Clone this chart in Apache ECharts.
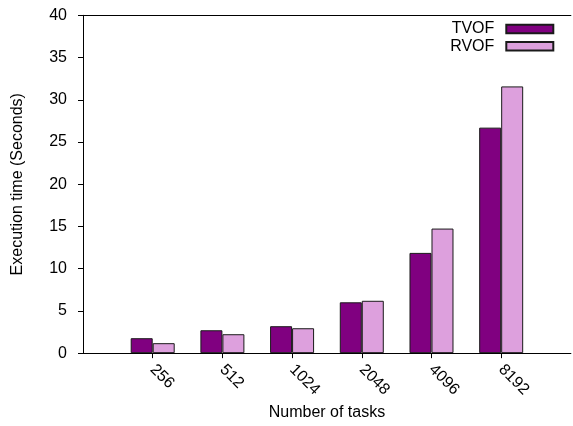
<!DOCTYPE html>
<html>
<head>
<meta charset="utf-8">
<script src="https://cdn.jsdelivr.net/npm/echarts@6/dist/echarts.min.js"></script>
<style>
  html, body { margin: 0; padding: 0; background: #fff; }
  #chart { width: 573px; height: 426px; }
</style>
</head>
<body>
<div id="chart"></div>
<script>
// Task counts on the x axis
var categories = ['256', '512', '1024', '2048', '4096', '8192'];
// Execution time in seconds
var tvof = [1.77, 2.71, 3.19, 6.02, 11.87, 26.7];
var rvof = [1.18, 2.24, 2.95, 6.2, 14.75, 31.58];
// Value axis ticks
var yMin = 0, yMax = 40, yStep = 5;

// One empty slot either side of the groups keeps them off the frame
var axisCats = [''].concat(categories, ['']);
function padded(arr) { return [null].concat(arr, [null]); }

var FONT = 'Liberation Sans, Arial, sans-serif';
var chart = echarts.init(document.getElementById('chart'), null, { renderer: 'canvas' });

chart.setOption({
  animation: false,
  backgroundColor: '#ffffff',
  textStyle: { fontFamily: FONT },
  grid: { left: 83, top: 15.3, width: 491.4, height: 339 },
  legend: {
    orient: 'vertical',
    right: 18.7,
    top: 21,
    padding: 0,
    itemGap: 1.2,
    align: 'right',
    itemWidth: 47,
    itemHeight: 8.5,
    icon: 'rect',
    textStyle: { fontFamily: FONT, fontSize: 16, color: '#000', padding: [0, 7, 0, 0], lineHeight: 16 },
    data: ['TVOF', 'RVOF']
  },
  xAxis: [{
    type: 'category',
    data: axisCats,
    boundaryGap: false,
    name: 'Number of tasks',
    nameLocation: 'middle',
    nameGap: 50,
    nameTextStyle: { fontFamily: FONT, fontSize: 16, color: '#000' },
    axisLine: { lineStyle: { color: '#000', width: 1 } },
    axisTick: {
      show: true, inside: false, length: 5,
      interval: function (idx, val) { return val !== ''; },
      lineStyle: { color: '#000' }
    },
    axisLabel: {
      interval: 0, rotate: -45, margin: 14,
      fontFamily: FONT, fontSize: 16, color: '#000'
    },
    splitLine: { show: false }
  }, {
    type: 'category',
    position: 'top',
    data: axisCats,
    boundaryGap: false,
    axisLine: { lineStyle: { color: '#000', width: 1 } },
    axisTick: { show: false },
    axisLabel: { show: false },
    splitLine: { show: false }
  }],
  yAxis: {
    type: 'value',
    min: yMin, max: yMax, interval: yStep,
    name: 'Execution time (Seconds)',
    nameLocation: 'middle',
    nameGap: 57,
    nameTextStyle: { fontFamily: FONT, fontSize: 16, color: '#000' },
    axisLine: { show: true, lineStyle: { color: '#000', width: 1 } },
    axisTick: { show: true, inside: false, length: 5, lineStyle: { color: '#000' } },
    axisLabel: { margin: 16, fontFamily: FONT, fontSize: 16, color: '#000' },
    splitLine: { show: false }
  },
  series: [{
    name: 'TVOF',
    type: 'bar',
    xAxisIndex: 0,
    data: padded(tvof),
    barWidth: 22,
    barGap: '0%',
    itemStyle: { color: '#800080', borderColor: '#1a1a1a', borderWidth: 1 }
  }, {
    name: 'RVOF',
    type: 'bar',
    xAxisIndex: 0,
    data: padded(rvof),
    barWidth: 22,
    barGap: '0%',
    itemStyle: { color: '#dda0dd', borderColor: '#1a1a1a', borderWidth: 1 }
  }]
});
</script>
</body>
</html>
